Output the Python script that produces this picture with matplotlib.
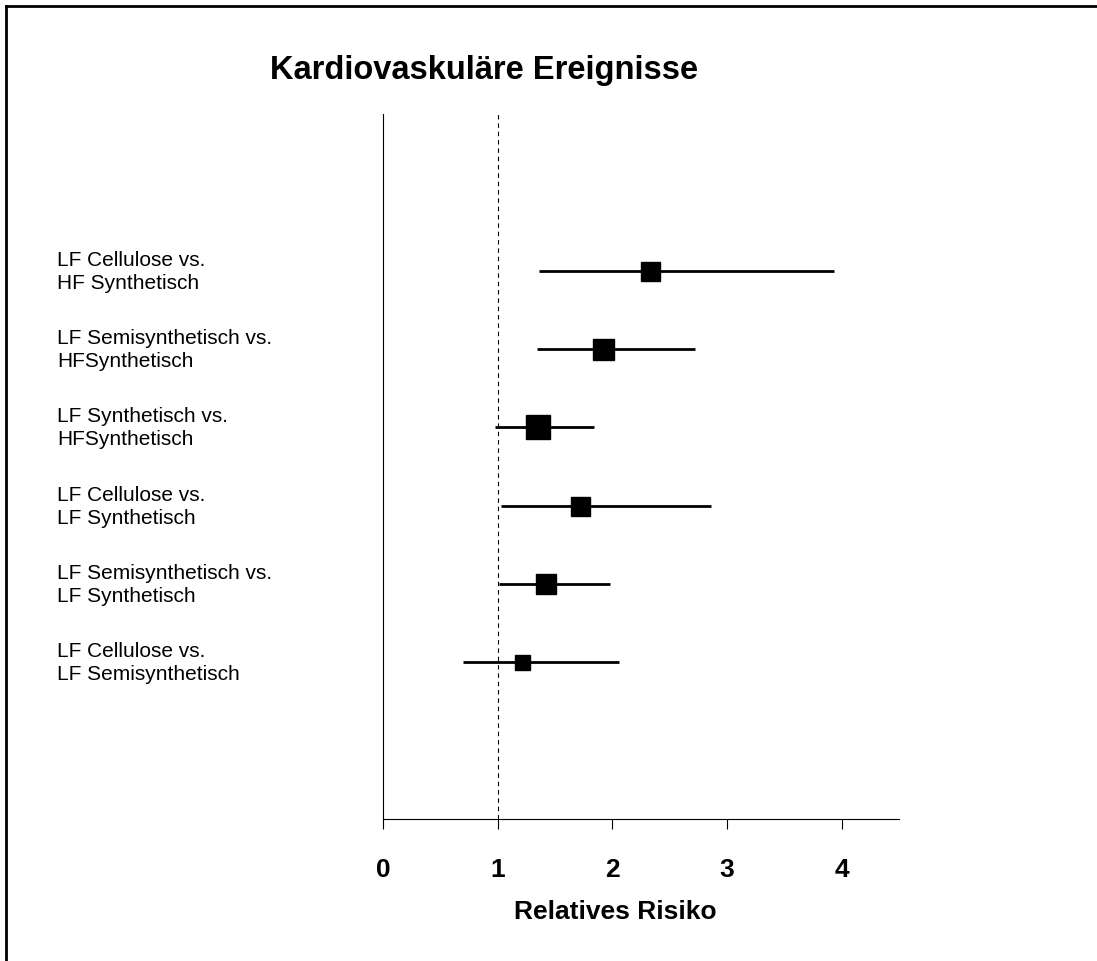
import matplotlib.pyplot as plt
import matplotlib.transforms as mtransforms
from matplotlib.lines import Line2D

plt.rcParams['font.family'] = ['Liberation Sans', 'DejaVu Sans']

# Vergleiche (von oben nach unten)
labels = [
    "LF Cellulose vs.\nHF Synthetisch",
    "LF Semisynthetisch vs.\nHFSynthetisch",
    "LF Synthetisch vs.\nHFSynthetisch",
    "LF Cellulose vs.\nLF Synthetisch",
    "LF Semisynthetisch vs.\nLF Synthetisch",
    "LF Cellulose vs.\nLF Semisynthetisch",
]
rr = [2.33, 1.92, 1.35, 1.72, 1.42, 1.21]
ci_low = [1.36, 1.34, 0.98, 1.03, 1.01, 0.70]
ci_high = [3.93, 2.72, 1.84, 2.86, 1.98, 2.06]
# Gewicht der Studie -> Kantenlänge des Quadrats
weights = [19, 21, 24, 19, 20, 15]

ticks = [0, 1, 2, 3, 4]

fig = plt.figure(figsize=(10.97, 9.62), dpi=100)
ax = fig.add_axes([0.349, 0.1476, 0.4704, 0.733])

n = len(labels)
ypos = list(range(n, 0, -1))

ax.axvline(1, color='black', linestyle=(0, (4, 3.5)), linewidth=0.8, zorder=1)

for y, m, lo, hi, w in zip(ypos, rr, ci_low, ci_high, weights):
    ax.plot([lo, hi], [y, y], color='black', linewidth=2.0, solid_capstyle='butt', zorder=2)
    ax.plot(m, y, marker='s', color='black', markersize=w * 0.72, zorder=3)

ax.set_xlim(0, 4.5)
ax.set_ylim(-1, 8)
ax.set_yticks([])
ax.set_xticks(ticks)
ax.set_xticklabels([str(t) for t in ticks], fontsize=19, fontweight='bold')
ax.tick_params(axis='x', direction='out', length=7, width=0.8, pad=20)
for side in ['top', 'right']:
    ax.spines[side].set_visible(False)
for side in ['left', 'bottom']:
    ax.spines[side].set_linewidth(0.8)

# Beschriftung der Vergleiche links
trans = mtransforms.blended_transform_factory(fig.transFigure, ax.transData)
for y, lab in zip(ypos, labels):
    ax.text(57 / 1097, y, lab, transform=trans, ha='left', va='center',
            fontsize=15, linespacing=1.27)

fig.text(484 / 1097, 1 - 70 / 962, "Kardiovaskuläre Ereignisse",
         ha='center', va='center', fontsize=23.5, fontweight='bold')
fig.text(615 / 1097, 1 - 912 / 962, "Relatives Risiko",
         ha='center', va='center', fontsize=19, fontweight='bold')

# Rahmen oben und links
fig.add_artist(Line2D([5.5 / 1097, 5.5 / 1097], [0, 1 - 7 / 962], transform=fig.transFigure,
                      color='black', linewidth=2))
fig.add_artist(Line2D([5.5 / 1097, 1], [1 - 7 / 962, 1 - 7 / 962], transform=fig.transFigure,
                      color='black', linewidth=2))

fig.savefig('out.png', dpi=100)
